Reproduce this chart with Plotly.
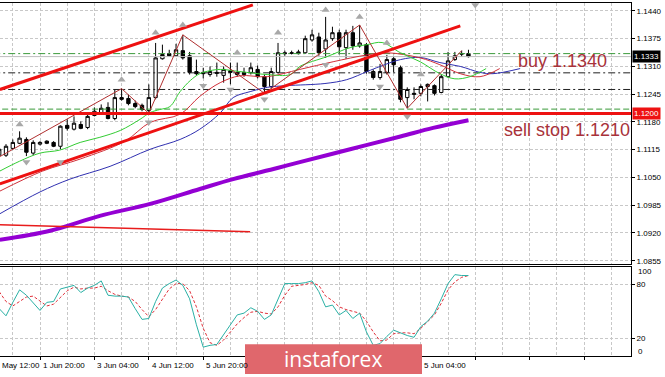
import plotly.graph_objects as go

# ---------------- data (H4 candles, index = bar number) ----------------
bars = list(range(70))
opens = [1.1102,1.1102,1.1118,1.1130,1.1139,1.1107,1.1128,1.1135,1.1132,1.1123,
         1.1172,1.1163,1.1174,1.1167,1.1195,1.1202,1.1214,1.1188,1.1237,1.1235,
         1.1223,1.1219,1.1207,1.1237,1.1328,1.1340,1.1335,1.1347,1.1335,1.1298,
         1.1296,1.1291,1.1296,1.1289,1.1300,1.1296,1.1296,1.1296,1.1303,1.1286,
         1.1263,1.1296,1.1342,1.1342,1.1340,1.1342,1.1372,1.1379,1.1351,1.1375,
         1.1389,1.1354,1.1389,1.1358,1.1361,1.1298,1.1284,1.1296,1.1328,1.1307,
         1.1237,1.1247,1.1247,1.1263,1.1265,1.1249,1.1286,1.1326,1.1340,1.1340]
highs = [1.1121,1.1128,1.1139,1.1158,1.1144,1.1137,1.1135,1.1137,1.1135,1.1172,
         1.1186,1.1193,1.1181,1.1198,1.1214,1.1221,1.1226,1.1256,1.1258,1.1244,
         1.1230,1.1223,1.1268,1.1365,1.1361,1.1349,1.1363,1.1384,1.1344,1.1326,
         1.1307,1.1310,1.1319,1.1310,1.1319,1.1319,1.1307,1.1319,1.1312,1.1291,
         1.1307,1.1365,1.1347,1.1347,1.1349,1.1382,1.1396,1.1389,1.1426,1.1403,
         1.1396,1.1396,1.1405,1.1407,1.1365,1.1303,1.1316,1.1337,1.1333,1.1312,
         1.1261,1.1261,1.1268,1.1270,1.1268,1.1291,1.1344,1.1344,1.1347,1.1349]
lows = [1.1098,1.1098,1.1116,1.1128,1.1100,1.1102,1.1125,1.1128,1.1121,1.1116,
        1.1160,1.1160,1.1163,1.1163,1.1193,1.1200,1.1186,1.1184,1.1230,1.1219,
        1.1212,1.1205,1.1200,1.1233,1.1326,1.1333,1.1333,1.1326,1.1291,1.1289,
        1.1282,1.1286,1.1286,1.1272,1.1268,1.1286,1.1286,1.1291,1.1282,1.1247,
        1.1258,1.1293,1.1335,1.1338,1.1338,1.1340,1.1368,1.1335,1.1330,1.1370,
        1.1338,1.1328,1.1349,1.1354,1.1293,1.1279,1.1279,1.1291,1.1296,1.1226,
        1.1212,1.1233,1.1240,1.1228,1.1242,1.1247,1.1284,1.1323,1.1333,1.1331]
closes = [1.1116,1.1123,1.1132,1.1142,1.1109,1.1132,1.1132,1.1130,1.1123,1.1170,
          1.1165,1.1177,1.1165,1.1193,1.1205,1.1212,1.1188,1.1237,1.1233,1.1223,
          1.1216,1.1209,1.1237,1.1330,1.1338,1.1335,1.1349,1.1330,1.1296,1.1293,
          1.1293,1.1298,1.1294,1.1303,1.1296,1.1291,1.1291,1.1307,1.1286,1.1263,
          1.1298,1.1342,1.1340,1.1341,1.1344,1.1375,1.1384,1.1342,1.1372,1.1389,
          1.1356,1.1389,1.1358,1.1365,1.1298,1.1284,1.1298,1.1326,1.1314,1.1233,
          1.1256,1.1245,1.1263,1.1268,1.1247,1.1286,1.1323,1.1335,1.1339,1.1333]

# Alligator (jaw / teeth / lips), shifted forward
jaw_x = [0.1,6.0,10.4,16.3,22.2,26.6,29.5,32.5,34.4,36.9,39.4,42.3,47.9,51.1,54.1,56.0,59.0,61.9,64.8,67.8,70.7,72.6,76.6]
jaw_y = [1.0965,1.1016,1.1046,1.1076,1.1116,1.1139,1.1163,1.1201,1.1237,1.1251,1.1261,1.1265,1.1270,1.1279,1.1298,1.1310,1.1326,1.1331,1.1319,1.1310,1.1296,1.1293,1.1305]
teeth_x = [0.1,6.4,11.9,18.5,22.2,26.6,29.5,32.5,35.4,39.4,44.2,49.1,54.1,57.0,61.9,64.8,67.8,70.7,73.6]
teeth_y = [1.1018,1.1065,1.1093,1.1135,1.1179,1.1198,1.1240,1.1272,1.1288,1.1286,1.1303,1.1321,1.1337,1.1342,1.1330,1.1314,1.1293,1.1286,1.1305]
lips_x = [0.1,3.0,6.0,8.9,11.9,14.8,17.8,20.7,22.2,23.6,25.1,26.6,28.1,29.5,31.0,32.5,35.4,39.4,42.8,44.2,48.2,51.6,54.1,56.3,59.0,61.9,64.8,67.0,69.2,71.6]
lips_y = [1.1065,1.1088,1.1107,1.1114,1.1132,1.1144,1.1160,1.1186,1.1202,1.1209,1.1216,1.1251,1.1277,1.1293,1.1300,1.1303,1.1298,1.1291,1.1291,1.1310,1.1333,1.1354,1.1361,1.1366,1.1342,1.1321,1.1293,1.1281,1.1286,1.1305]

# slow moving average (purple)
ma_x = [0.1,7.5,14.8,22.2,29.5,34.4,40.9,44.2,51.6,59.0,63.8,69.0]
ma_y = [1.0904,1.0925,1.0960,1.0988,1.1023,1.1046,1.1072,1.1086,1.1116,1.1146,1.1166,1.1184]

# zigzag
zz_x = [0,18,22,27,39,53,60,68]
zz_y = [1.1098,1.1258,1.1200,1.1384,1.1247,1.1407,1.1212,1.1347]

# fractals
fr_up_x = [3,18,23,27,35,41,48,53,57,62]
fr_up_y = [1.1174,1.1279,1.1389,1.1407,1.1342,1.1389,1.1442,1.1426,1.1365,1.1291]
fr_dn_x = [4,9,22,30,34,39,48,56,60,70]
fr_dn_y = [1.1086,1.1086,1.1179,1.1265,1.1256,1.1233,1.1314,1.1263,1.1193,1.1454]

# trend lines (start / end points)
upper_ch_x = [0.1, 37.3]; upper_ch_y = [1.1256, 1.1454]
lower_ch_x = [0.1, 67.8]; lower_ch_y = [1.1035, 1.1405]
old_tl_x = [0.1, 36.9];   old_tl_y = [1.0939, 1.0923]

# horizontal levels
buy_level = 1.1340
sell_level = 1.1210
support_level = 1.1200
level_a = 1.1295
level_b = 1.1256
last_price = 1.1333

# stochastic
stoch_k = [53,45,60,74,68,60,51,60,61,75,77,79,71,76,79,84,68,67,67,66,
           53,41,42,61,76,81,85,79,64,35,10,12,13,24,35,46,48,54,50,41,
           46,64,81,81,81,82,84,72,55,57,46,51,42,48,27,12,14,22,29,26,
           23,21,33,39,48,64,81,91,90,90]
stoch_d = [72,61,56,61,66,67,61,56,58,66,73,77,75,76,76,78,73,69,67,66,
           61,52,44,52,64,75,81,81,73,55,31,15,12,18,27,36,43,49,50,48,
           47,55,68,78,79,80,82,79,67,62,55,52,50,48,39,27,17,18,25,26,
           26,25,31,39,46,59,74,83,88,90]

price_ticks = [1.0855,1.0920,1.0985,1.1050,1.1115,1.1180,1.1245,1.1310,1.1375,1.1440]
time_label_bars = [6, 14, 22, 30, 62]
time_labels = ["1 Jun 20:00", "3 Jun 04:00", "4 Jun 12:00", "5 Jun 20:00", "5 Jun 04:00"]
edge_time_label = "May 12:00"   # visible part of the first label at the left edge

# ---------------- figure ----------------
X_END = 92.9
X_START = 0.118
W, H = 665, 377
XD = 631 / W
PX_PER_BAR = XD * W / (X_END - X_START)
fig = go.Figure()

def line(x, y, color, width, dash=None, shape='linear', xa='x', ya='y'):
    fig.add_trace(go.Scatter(x=x, y=y, mode='lines', xaxis=xa, yaxis=ya,
                             line=dict(color=color, width=width, dash=dash, shape=shape),
                             hoverinfo='skip'))

full = [X_START - 1, X_END + 1]
line(full, [level_b]*2, '#202020', 1, '7px,3px,2px,3px')
line(full, [level_a]*2, '#202020', 1, '7px,3px,2px,3px')
line(full, [buy_level]*2, '#3a9a3a', 1, '7px,3px,2px,3px')
line(full, [sell_level]*2, '#3a9a3a', 1, '6px,3px')
line(full, [last_price]*2, '#bdbdbd', 1)

line(ma_x, ma_y, '#9400D3', 4, shape='spline')
line(old_tl_x, old_tl_y, '#e81c1c', 1.5)
line(jaw_x, jaw_y, '#3030b0', 1, shape='spline')
line(teeth_x, teeth_y, '#d0303a', 1, shape='spline')
line(lips_x, lips_y, '#33cc33', 1, shape='spline')
line(zz_x, zz_y, '#b03030', 1)
line(upper_ch_x, upper_ch_y, '#ee1111', 3)
line(lower_ch_x, lower_ch_y, '#ee1111', 3)
line(full, [support_level]*2, '#ee1111', 3)

fig.add_trace(go.Candlestick(x=bars, open=opens, high=highs, low=lows, close=closes,
                             xaxis='x', yaxis='y', whiskerwidth=0,
                             increasing=dict(line=dict(color='black', width=1), fillcolor='white'),
                             decreasing=dict(line=dict(color='black', width=1), fillcolor='black'),
                             hoverinfo='skip'))

fig.add_trace(go.Scatter(x=fr_up_x, y=fr_up_y, mode='markers', xaxis='x', yaxis='y',
                         marker=dict(symbol='triangle-up', size=7, color='#a8a8a8'), hoverinfo='skip'))
fig.add_trace(go.Scatter(x=fr_dn_x, y=fr_dn_y, mode='markers', xaxis='x', yaxis='y',
                         marker=dict(symbol='triangle-down', size=7, color='#a8a8a8'), hoverinfo='skip'))

line(bars, stoch_d, '#e0303a', 1, '3px,2px', xa='x2', ya='y2')
line(bars, stoch_k, '#2ab0a5', 1, xa='x2', ya='y2')

GRID = '#c8c8c8'
fig.update_layout(
    width=W, height=H, margin=dict(l=0, r=0, t=0, b=0),
    paper_bgcolor='white', plot_bgcolor='white', showlegend=False, hovermode=False,
    font=dict(family='Liberation Sans, Arial, sans-serif', size=8, color='black'),
    xaxis=dict(domain=[0, XD], range=[X_START, X_END], anchor='y',
               tick0=2, dtick=4, showgrid=True, gridcolor=GRID, griddash='3px,2px', gridwidth=1,
               showticklabels=False, ticks='', zeroline=False,
               showline=True, linecolor='black', linewidth=1, mirror=True,
               rangeslider=dict(visible=False)),
    yaxis=dict(domain=[(H-265)/H, (H-3)/H], range=[1.08482, 1.14586], anchor='x',
               side='right', tickvals=price_ticks, tickformat='.4f',
               showgrid=True, gridcolor=GRID, griddash='3px,2px', zeroline=False,
               ticks='outside', ticklen=3, tickcolor='black',
               showline=True, linecolor='black', linewidth=1,
               tickfont=dict(size=8)),
    xaxis2=dict(domain=[0, XD], range=[X_START, X_END], anchor='y2', matches='x',
                tick0=6, dtick=8, showgrid=True, gridcolor=GRID, griddash='3px,2px',
                minor=dict(tick0=2, dtick=4, showgrid=True, gridcolor=GRID, griddash='3px,2px'),
                showticklabels=False, ticks='outside', ticklen=3, tickcolor='black', zeroline=False,
                showline=True, linecolor='black', linewidth=1, mirror=True),
    yaxis2=dict(domain=[(H-358)/H, (H-268)/H], range=[0, 100], anchor='x2',
                side='right', tickvals=[20, 80], ticktext=['20', '80'],
                showgrid=True, gridcolor=GRID, griddash='3px,2px', zeroline=False,
                ticks='outside', ticklen=3, tickcolor='black',
                showline=True, linecolor='black', linewidth=1, tickfont=dict(size=8)),
)

ann = []
for b, t in zip(time_label_bars, time_labels):
    xp = ((b - X_START) * PX_PER_BAR + 1) / W
    ann.append(dict(x=xp, xref='paper', y=(H-367)/H, yref='paper', text=t, showarrow=False,
                    xanchor='left', yanchor='middle', font=dict(size=8)))
ann.append(dict(x=0, xref='paper', y=(H-367)/H, yref='paper', text=edge_time_label, showarrow=False,
                xanchor='left', yanchor='middle', font=dict(size=8)))
ann.append(dict(x=636/W, xref='paper', y=(H-273)/H, yref='paper', text='100', showarrow=False,
                xanchor='left', yanchor='middle', font=dict(size=8)))
ann.append(dict(x=636/W, xref='paper', y=(H-353)/H, yref='paper', text='0', showarrow=False,
                xanchor='left', yanchor='middle', font=dict(size=8)))
ann.append(dict(x=632/W, xref='paper', y=last_price, yref='y', text='1.1333', showarrow=False,
                xanchor='left', yanchor='middle', bgcolor='black', borderpad=1,
                font=dict(size=8, color='white')))
ann.append(dict(x=632/W, xref='paper', y=support_level, yref='y', text='1.1200', showarrow=False,
                xanchor='left', yanchor='middle', bgcolor='#ee1111', borderpad=1,
                font=dict(size=8, color='white')))
ann.append(dict(x=516/W, xref='paper', y=(H-61)/H, yref='paper', text='buy 1.1340', showarrow=False,
                xanchor='left', yanchor='middle', font=dict(size=18, color='#a8323a')))
ann.append(dict(x=502/W, xref='paper', y=(H-131)/H, yref='paper', text='sell stop 1.1210', showarrow=False,
                xanchor='left', yanchor='middle', font=dict(size=18, color='#a8323a')))
ann.append(dict(x=333/W, xref='paper', y=(H-361)/H, yref='paper', text='instaforex', showarrow=False,
                xanchor='center', yanchor='middle',
                font=dict(family='Open Sans, Liberation Sans, sans-serif', size=21, color='white')))
fig.update_layout(annotations=ann)

fig.add_shape(type='rect', xref='paper', yref='paper', x0=245/W, x1=422/W,
              y0=(H-376)/H, y1=(H-346)/H, fillcolor='#e0676c', line=dict(width=0), layer='above')

fig.write_html('out.html')
